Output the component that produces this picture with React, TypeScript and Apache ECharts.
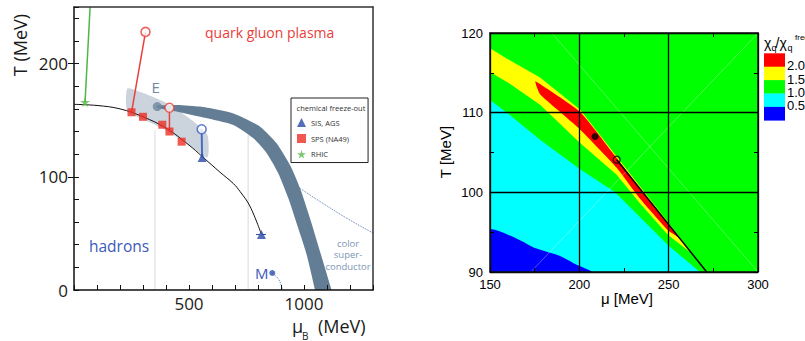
import React, { useEffect, useRef } from 'react';
import * as echarts from 'echarts';

const LEFT_FONT = '"Open Sans", "Noto Sans", sans-serif';
const RIGHT_FONT = '"Liberation Sans", Arial, sans-serif';

// ---------------- Left panel (phase diagram) ----------------
const xTickLabelsLeft = [500, 1000];
const yTickLabelsLeft = [0, 100, 200];
const yMajorTicksLeft = [100, 200];

const sisAgs = [[557, 117], [815, 49]];
const spsNa49 = [[250, 157], [300, 153], [384, 146], [415, 140], [468, 131]];
const rhic = [[48, 166]];
const rhicLine = [[48, 166], [70, 250]];
const spsLine1 = [[250, 157], [311, 228]];
const spsLine2 = [[415, 140], [415, 161]];
const spsOpen = [[311, 228], [415, 161]];
const sisLine = [[557, 117], [555, 142]];
const sisOpen = [[555, 142]];
const sisErr = [[791, 49], [837, 49]];
const freezeCurve = [[0, 164], [100, 163], [200, 160], [300, 153], [400, 143], [500, 128], [557, 118], [635, 104], [693, 94], [722, 87], [765, 74], [815, 49]];
const grayUpper = [[232, 178], [300, 174], [403, 165], [500, 152], [580, 137]];
const grayLower = [[580, 117], [500, 128], [400, 141], [300, 151], [232, 158]];
const bandOuter = [[361, 163], [450, 163.5], [548, 162], [693, 156], [809, 144.3], [881, 129.6], [939, 110.4], [983, 89.8], [1026, 63.3], [1070, 33.8], [1120, 0], [1133, -12]];
const bandInner = [[361, 161], [450, 157.5], [548, 153], [693, 145.8], [780, 134], [838, 120.8], [888, 103.1], [932, 81], [975, 54.5], [1012, 30.9], [1048, 0], [1058, -12]];
const critE = [[362, 162]];
const pointM = [[862, 15]];
const mDotted = [[862, 15], [888, 10], [903, 3], [906, 0]];
const cscDotted = [[955, 93.5], [1070, 78.1], [1186, 63.4], [1301, 50.2]];
const vLine1 = [[352, 0], [352, 141]];
const vLine2 = [[757, 0], [757, 137]];

// ---------------- Right panel (susceptibility contours) ----------------
const greenRegion = [[150, 90], [300, 90], [300, 120], [150, 120]];
const cyanRegion = [[150, 90], [150, 111.6], [160, 109.9], [178, 106.6], [200.4, 102.9], [220, 100.0], [250, 93.3], [267.5, 90]];
const blueRegion = [[150, 90], [150, 95.3], [166.8, 94.0], [175.2, 93.0], [189.2, 92.0], [198.5, 90.9], [206.9, 90]];
const yellowRegion = [[150, 118.1], [160, 116.7], [178, 114.4], [200.4, 110.4], [220.9, 104.5], [263.8, 92.2], [249.8, 94.6], [234, 98.6], [220.9, 102.2], [200.4, 106.2], [178, 111.0], [160, 113.8], [150, 115.1]];
const redRegion = [[175.3, 113.9], [178, 113.6], [200.4, 110.1], [220.9, 104.3], [234, 100.5], [249.8, 96.0], [256, 94.3], [249.8, 95.2], [234, 99.2], [220.9, 103.1], [200.4, 107.9], [178, 112.3]];
const boundaryLine = [[220.9, 104.1], [271.3, 90]];
const filledDot = [[208.8, 107.0]];
const openDot = [[220.9, 104.1]];
const faintLine1 = [[172.8, 90], [300, 120]];
const faintLine2 = [[184.6, 120], [300, 90]];
const colorbarColors = ['#ff0000', '#ffff00', '#00ff00', '#00ffff', '#0000ff'];
const colorbarLabels = ['2.0', '1.5', '1.0', '0.5'];

const poly = (pts: number[][], fill: string, xi: number, yi: number, smooth = 0, z = 2) => ({
  type: 'custom',
  xAxisIndex: xi,
  yAxisIndex: yi,
  clip: true,
  silent: true,
  z,
  data: [pts[0]],
  renderItem: (_p: any, api: any) => ({
    type: 'polygon',
    shape: { points: pts.map((p) => api.coord(p)), smooth },
    style: { fill },
  }),
});

const line = (pts: number[][], color: string, width: number, xi: number, yi: number, type: any = 'solid', smooth: any = 0, z = 3) => ({
  type: 'line',
  xAxisIndex: xi,
  yAxisIndex: yi,
  data: pts,
  symbol: 'none',
  smooth,
  clip: true,
  silent: true,
  z,
  lineStyle: { color, width, type },
});

const STAR = 'path://M50,0 L61,35 98,35 68,57 79,91 50,70 21,91 32,57 2,35 39,35 Z';

const txt = (text: string, x: number, y: number, size: number, fill: string, font: string, align = 'left', extra: any = {}) => ({
  type: 'text',
  x,
  y,
  z: 20,
  silent: true,
  ...extra,
  style: { text, x: 0, y: 0, fontSize: size, fontFamily: font, fill, align, verticalAlign: 'middle' },
});

export default function App() {
  const ref = useRef<HTMLDivElement>(null);
  useEffect(() => {
    const chart = echarts.init(ref.current!, null, { renderer: 'svg' });
    const frame = { color: '#111', width: 1.5 };
    const leftLabel = { fontSize: 17, color: '#1a1a1a', fontFamily: LEFT_FONT };
    const rightLabel = { fontSize: 13, color: '#000', fontFamily: RIGHT_FONT };

    const barX = 764;
    const barTop = 53.3;
    const barH = 13.4;
    const graphics: any[] = [
      txt('quark gluon plasma', 205, 32, 14, '#e8403a', LEFT_FONT),
      txt('hadrons', 89, 246, 15.5, '#3a5ab8', LEFT_FONT),
      txt('E', 155.7, 86.7, 15, '#6d89a3', LEFT_FONT, 'center'),
      txt('M', 261.7, 272.7, 15, '#3a5ab8', LEFT_FONT, 'center'),
      txt('color', 348, 243, 9.5, '#7d96b5', LEFT_FONT, 'center'),
      txt('super-', 348, 254.5, 9.5, '#7d96b5', LEFT_FONT, 'center'),
      txt('conductor', 348, 266, 9.5, '#7d96b5', LEFT_FONT, 'center'),
      txt('chemical freeze-out', 331, 108, 7.5, '#333', LEFT_FONT, 'center'),
      txt('T (MeV)', 20, 45, 18, '#1a1a1a', LEFT_FONT, 'center', { rotation: Math.PI / 2 }),
      txt('μ', 292, 326, 18, '#1a1a1a', LEFT_FONT),
      txt('B', 302, 335.5, 10, '#1a1a1a', LEFT_FONT),
      txt('(MeV)', 318, 326, 18, '#1a1a1a', LEFT_FONT),
      txt('μ [MeV]', 627, 298, 15, '#000', RIGHT_FONT, 'center'),
      txt('T [MeV]', 445, 152, 15, '#000', RIGHT_FONT, 'center', { rotation: Math.PI / 2 }),
      txt('χ', 764, 43, 14, '#000', RIGHT_FONT),
      txt('q', 771.5, 48, 9, '#000', RIGHT_FONT),
      txt('/', 775.5, 43, 14, '#000', RIGHT_FONT),
      txt('χ', 779.5, 43, 14, '#000', RIGHT_FONT),
      txt('q', 787.5, 48, 9, '#000', RIGHT_FONT),
      txt('free', 795, 37, 8, '#000', RIGHT_FONT),
    ];
    colorbarColors.forEach((c, i) => {
      graphics.push({ type: 'rect', z: 20, silent: true, shape: { x: barX, y: barTop + i * barH, width: 21, height: barH + 0.3 }, style: { fill: c } });
    });
    colorbarLabels.forEach((l, i) => {
      graphics.push(txt(l, 787, barTop + (i + 1) * barH - 1, 13, '#000', RIGHT_FONT));
    });

    const option: any = {
      animation: false,
      backgroundColor: '#fff',
      grid: [
        { left: 74, top: 7, width: 299, height: 283, containLabel: false, outerBoundsMode: 'none', show: false },
        { left: 490, top: 33, width: 268, height: 239, containLabel: false, outerBoundsMode: 'none', show: false },
      ],
      legend: {
        data: ['SIS, AGS', 'SPS (NA49)', 'RHIC'],
        orient: 'vertical',
        left: 291,
        top: 98,
        padding: [20, 19, 4, 6],
        itemWidth: 9,
        itemHeight: 9,
        itemGap: 7,
        borderColor: '#222',
        borderWidth: 1,
        selectedMode: false,
        textStyle: { fontSize: 7.5, color: '#333', fontFamily: LEFT_FONT },
      },
      xAxis: [
        {
          type: 'value', gridIndex: 0, min: 0, max: 1300, interval: 100, position: 'bottom', z: 10,
          axisLine: { show: true, onZero: false, lineStyle: frame },
          axisTick: { show: true, inside: true, length: 5, lineStyle: { color: '#111', width: 1 } },
          axisLabel: { show: true, margin: 5, ...leftLabel, customValues: xTickLabelsLeft, formatter: (v: number) => (xTickLabelsLeft.includes(v) ? String(v) : '') },
          splitLine: { show: false },
        },
        {
          type: 'value', gridIndex: 0, min: 0, max: 1300, position: 'top', z: 10,
          axisLine: { show: true, onZero: false, lineStyle: { color: '#333', width: 1.5 } },
          axisTick: { show: false }, axisLabel: { show: false }, splitLine: { show: false },
        },
        {
          type: 'value', gridIndex: 1, min: 150, max: 300, interval: 50, position: 'bottom', z: 10,
          axisLine: { show: true, onZero: false, lineStyle: frame },
          axisTick: { show: true, inside: true, length: 4, lineStyle: { color: '#000' } },
          minorTick: { show: true, splitNumber: 2, length: 4, lineStyle: { color: '#000', width: 1 } },
          axisLabel: { show: true, margin: 6, ...rightLabel },
          splitLine: { show: true, lineStyle: { color: '#000', width: 1.3 } },
        },
        {
          type: 'value', gridIndex: 1, min: 150, max: 300, interval: 50, position: 'top', z: 10,
          axisLine: { show: true, onZero: false, lineStyle: frame },
          axisTick: { show: true, inside: true, length: 4, lineStyle: { color: '#000' } },
          minorTick: { show: true, splitNumber: 2, length: 4, lineStyle: { color: '#000', width: 1 } },
          axisLabel: { show: false }, splitLine: { show: false },
        },
      ],
      yAxis: [
        {
          type: 'value', gridIndex: 0, min: 0, max: 250, interval: 20, position: 'left', z: 10,
          axisLine: { show: true, onZero: false, lineStyle: frame },
          axisTick: { show: true, inside: true, length: 5, lineStyle: { color: '#111', width: 1 } },
          axisLabel: { show: true, margin: 6, ...leftLabel, customValues: yTickLabelsLeft, formatter: (v: number) => (yTickLabelsLeft.includes(v) ? String(v) : '') },
          splitLine: { show: false },
        },
        {
          type: 'value', gridIndex: 0, min: 0, max: 250, interval: 100, position: 'left', z: 10,
          axisLine: { show: false },
          axisTick: { show: true, inside: false, length: 6, customValues: yMajorTicksLeft, lineStyle: { color: '#111', width: 1 } },
          axisLabel: { show: false }, splitLine: { show: false },
        },
        {
          type: 'value', gridIndex: 0, min: 0, max: 250, position: 'right', z: 10,
          axisLine: { show: true, onZero: false, lineStyle: { color: '#333', width: 1.5 } },
          axisTick: { show: false }, axisLabel: { show: false }, splitLine: { show: false },
        },
        {
          type: 'value', gridIndex: 1, min: 90, max: 120, interval: 10, position: 'left', z: 10,
          axisLine: { show: true, onZero: false, lineStyle: frame },
          axisTick: { show: true, inside: true, length: 4, lineStyle: { color: '#000' } },
          minorTick: { show: true, splitNumber: 2, length: 4, lineStyle: { color: '#000', width: 1 } },
          axisLabel: { show: true, margin: 7, ...rightLabel },
          splitLine: { show: true, lineStyle: { color: '#000', width: 1.3 } },
        },
        {
          type: 'value', gridIndex: 1, min: 90, max: 120, interval: 10, position: 'right', z: 10,
          axisLine: { show: true, onZero: false, lineStyle: frame },
          axisTick: { show: true, inside: true, length: 4, lineStyle: { color: '#000' } },
          minorTick: { show: true, splitNumber: 2, length: 4, lineStyle: { color: '#000', width: 1 } },
          axisLabel: { show: false }, splitLine: { show: false },
        },
      ],
      series: [
        // left panel
        line(vLine1, '#d5dbe2', 1, 0, 0, 'solid', 0, 1),
        line(vLine2, '#d5dbe2', 1, 0, 0, 'solid', 0, 1),
        poly([...grayUpper, ...grayLower], '#cbd3dd', 0, 0, 0.2, 2),
        line(freezeCurve, '#111', 1, 0, 0, 'solid', 0.4, 3),
        line(cscDotted, '#5a7bb0', 1, 0, 0, 'dotted', 0.3, 3),
        line(mDotted, '#5a7bb0', 1, 0, 0, 'dotted', 0.3, 3),
        poly([...bandOuter, ...bandInner.slice().reverse()], '#637e94', 0, 0, 0.2, 4),
        line(rhicLine, '#4cb848', 1.5, 0, 0, 'solid', 0, 5),
        line(spsLine1, '#e8403a', 1.5, 0, 0, 'solid', 0, 5),
        line(spsLine2, '#e8403a', 1.5, 0, 0, 'solid', 0, 5),
        line(sisLine, '#4a6bc0', 2, 0, 0, 'solid', 0, 5),
        line(sisErr, '#2a4aa6', 1, 0, 0, 'dashed', 0, 5),
        {
          type: 'scatter', xAxisIndex: 0, yAxisIndex: 0, data: critE, symbol: 'circle', symbolSize: 9, silent: true, z: 6,
          itemStyle: { color: '#6f879c' },
        },
        {
          type: 'scatter', xAxisIndex: 0, yAxisIndex: 0, data: pointM, symbol: 'circle', symbolSize: 6, silent: true, z: 6,
          itemStyle: { color: '#2f4fb0' },
        },
        {
          type: 'scatter', xAxisIndex: 0, yAxisIndex: 0, data: spsOpen, symbol: 'circle', symbolSize: 9, silent: true, z: 6,
          itemStyle: { color: '#fff', borderColor: '#e8403a', borderWidth: 1.6 },
        },
        {
          type: 'scatter', xAxisIndex: 0, yAxisIndex: 0, data: sisOpen, symbol: 'circle', symbolSize: 9, silent: true, z: 6,
          itemStyle: { color: '#fff', borderColor: '#3d5fbf', borderWidth: 1.6 },
        },
        {
          type: 'scatter', name: 'SIS, AGS', xAxisIndex: 0, yAxisIndex: 0, data: sisAgs, symbol: 'triangle', symbolSize: 9, silent: true, z: 7,
          itemStyle: { color: '#2a4aa6' },
        },
        {
          type: 'scatter', name: 'SPS (NA49)', xAxisIndex: 0, yAxisIndex: 0, data: spsNa49, symbol: 'rect', symbolSize: 8, silent: true, z: 7,
          itemStyle: { color: '#ee2e24' },
        },
        {
          type: 'scatter', name: 'RHIC', xAxisIndex: 0, yAxisIndex: 0, data: rhic, symbol: STAR, symbolSize: 10, silent: true, z: 7,
          itemStyle: { color: '#5bb848' },
        },
        // right panel
        poly(greenRegion, '#00ff00', 2, 3, 0, 1),
        poly(cyanRegion, '#00ffff', 2, 3, 0, 2),
        poly(blueRegion, '#0000ff', 2, 3, 0.2, 2),
        poly(yellowRegion, '#ffff00', 2, 3, 0, 3),
        poly(redRegion, '#ff0000', 2, 3, 0.15, 4),
        line(faintLine1, 'rgba(255,255,255,0.4)', 0.8, 2, 3, 'solid', 0, 5),
        line(faintLine2, 'rgba(255,255,255,0.4)', 0.8, 2, 3, 'solid', 0, 5),
        line(boundaryLine, '#000', 1.5, 2, 3, 'solid', 0, 6),
        {
          type: 'scatter', xAxisIndex: 2, yAxisIndex: 3, data: filledDot, symbol: 'circle', symbolSize: 7, silent: true, z: 7,
          itemStyle: { color: '#000' },
        },
        {
          type: 'scatter', xAxisIndex: 2, yAxisIndex: 3, data: openDot, symbol: 'circle', symbolSize: 7, silent: true, z: 7,
          itemStyle: { color: 'rgba(0,0,0,0)', borderColor: '#000', borderWidth: 1.3 },
        },
      ],
      graphic: graphics,
    };
    chart.setOption(option);
    return () => chart.dispose();
  }, []);
  return <div ref={ref} style={{ position: 'fixed', left: 0, top: 0, width: 805, height: 341, background: '#fff' }} />;
}
